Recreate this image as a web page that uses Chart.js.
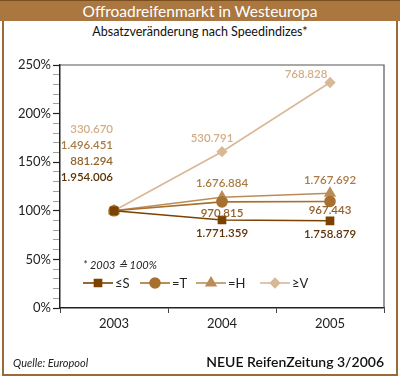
<!DOCTYPE html>
<html><head><meta charset="utf-8">
<script src="https://cdn.jsdelivr.net/npm/chart.js@4"></script>
<style>
html,body{margin:0;padding:0;background:#fff;}
#wrap{position:relative;width:400px;height:380px;overflow:hidden;font-family:Lato,"Open Sans",sans-serif;}
#frame{position:absolute;left:2px;top:0;width:392px;height:374px;border:2px solid #9c6a35;border-top:none;box-sizing:content-box;}
#title{position:absolute;left:0;top:0;width:400px;height:20px;background:#a9773f;border-top:1px solid #7a4d1c;color:#fff;font-size:15.5px;line-height:20px;text-align:center;}
#sub{position:absolute;left:0;top:24px;width:400px;text-align:center;font-size:12.5px;color:#111;}
#src{position:absolute;left:13px;top:356px;font-size:11px;font-style:italic;color:#222;}
#pub{position:absolute;right:16px;top:353px;font-size:14px;color:#111;font-weight:600;}
canvas{position:absolute;left:0;top:0;}
</style></head>
<body><div id="wrap">
<div id="frame"></div>
<div id="title">Offroadreifenmarkt in Westeuropa</div>
<div id="sub">Absatzveränderung nach Speedindizes*</div>
<canvas id="c" width="400" height="380"></canvas>
<div id="src">Quelle: Europool</div>
<div id="pub">NEUE ReifenZeitung 3/2006</div>
</div>
<script>
const years = ['2003','2004','2005'];
const seriesNames = ['≤S','=T','=H','≥V'];
const sVals = [100, 90.5, 89.7];
const tVals = [100, 109.2, 109.6];
const hVals = [100, 114.0, 118.0];
const vVals = [100, 160.8, 232.0];
const sUnits = ['1.954.006','1.771.359','1.758.879'];
const tUnits = ['881.294','970.815','967.443'];
const hUnits = ['1.496.451','1.676.884','1.767.692'];
const vUnits = ['330.670','530.791','768.828'];
const yTicks = [0,50,100,150,200,250];
const note = '* 2003 ≙ 100%';

const colS='#7b4200', colT='#a8702f', colH='#bb8c58', colV='#d8b896';
const txtS='#5e3205', txtT='#93602a', txtH='#a97a44', txtV='#d2ad87';

const ds = (label,data,c,style,r)=>({label,data,borderColor:c,backgroundColor:c,borderWidth:1.6,pointStyle:style,pointRadius:r,pointHoverRadius:r,tension:0});

const labelPlugin = {
  id:'labels',
  afterDatasetsDraw(chart){
    const ctx=chart.ctx, x=chart.scales.x, y=chart.scales.y;
    ctx.save();
    ctx.font='600 11.5px Lato, "Open Sans", sans-serif';
    ctx.textBaseline='middle';
    ctx.textAlign='right';
    const x0=x.getPixelForValue(0)-1;
    [[vUnits[0],txtV,129],[hUnits[0],txtH,145],[tUnits[0],txtT,161],[sUnits[0],txtS,177]].forEach(a=>{ctx.fillStyle=a[1];ctx.fillText(a[0],x0,a[2]);});
    ctx.textAlign='center';
    const put=(txt,col,i,val,dy,dx)=>{ctx.fillStyle=col;ctx.fillText(txt,x.getPixelForValue(i)+(dx||0),y.getPixelForValue(val)+dy);};
    put(vUnits[1],txtV,1,vVals[1],-13,-10);
    put(vUnits[2],txtV,2,vVals[2],-8,-24);
    put(hUnits[1],txtH,1,hVals[1],-14,0);
    put(hUnits[2],txtH,2,hVals[2],-13,0);
    put(tUnits[1],txtT,1,tVals[1],11,0);
    put(tUnits[2],txtT,2,tVals[2],9,0);
    put(sUnits[1],txtS,1,sVals[1],13,0);
    put(sUnits[2],txtS,2,sVals[2],13,0);
    ctx.font='italic 11px Lato, "Open Sans", sans-serif';
    ctx.textAlign='left'; ctx.fillStyle='#222';
    ctx.fillText(note,83,265);
    ctx.font='13px Lato, "Open Sans", sans-serif';
    const lx=[83,140,196,260];
    chart.data.datasets.forEach((d,i)=>{
      const yy=283, xs=lx[i];
      ctx.strokeStyle=d.borderColor; ctx.fillStyle=d.backgroundColor; ctx.lineWidth=1.6;
      ctx.beginPath(); ctx.moveTo(xs,yy); ctx.lineTo(xs+30,yy); ctx.stroke();
      Chart.helpers.drawPoint(ctx,{pointStyle:d.pointStyle,radius:d.pointRadius,rotation:0,borderWidth:1},xs+15,yy);
      ctx.fillStyle='#222';
      ctx.fillText(d.label,xs+32,yy+1);
    });
    ctx.restore();
  }
};
const framePlugin = {
  id:'frame',
  beforeDatasetsDraw(chart){
    const {ctx,chartArea:a}=chart;
    ctx.save();
    ctx.strokeStyle='#555'; ctx.lineWidth=1.2;
    ctx.beginPath(); ctx.moveTo(a.left,a.top); ctx.lineTo(a.right,a.top); ctx.lineTo(a.right,a.bottom); ctx.stroke();
    ctx.restore();
  }
};

new Chart(document.getElementById('c'),{
  type:'line',
  data:{labels:years,datasets:[
    ds(seriesNames[0],sVals,colS,'rect',5),
    ds(seriesNames[1],tVals,colT,'circle',5),
    ds(seriesNames[2],hVals,colH,'triangle',5.5),
    ds(seriesNames[3],vVals,colV,'rectRot',4.5)
  ]},
  options:{
    responsive:false,animation:false,
    layout:{padding:{left:0,right:16,top:65,bottom:0}},
    plugins:{legend:{display:false},tooltip:{enabled:false}},
    scales:{
      x:{offset:true,
        grid:{display:true,drawOnChartArea:false,drawTicks:true,tickLength:5,offset:true,color:'#444',tickColor:'#444'},
        border:{color:'#222',width:1.5},
        ticks:{color:'#222',font:{family:'Lato, "Open Sans", sans-serif',size:13},padding:3},
        afterFit(s){s.height=72;}
      },
      y:{min:0,max:250,
        afterBuildTicks(s){s.ticks=[];for(let v=0;v<=250;v+=10)s.ticks.push({value:v,major:yTicks.includes(v)});},
        grid:{drawOnChartArea:false,drawTicks:true,tickLength:7,
          tickColor:c=>c.tick&&c.tick.major?'#222':'#888',
          tickWidth:c=>c.tick&&c.tick.major?1.2:0.8,
          color:'#222'},
        border:{color:'#222',width:1.5},
        ticks:{autoSkip:false,color:'#222',font:{family:'Lato, "Open Sans", sans-serif',size:13},padding:2,
          callback:(v)=>yTicks.includes(v)?v+'%':''},
        afterFit(s){s.width=60;}
      }
    }
  },
  plugins:[framePlugin,labelPlugin]
});
</script>
</body></html>
